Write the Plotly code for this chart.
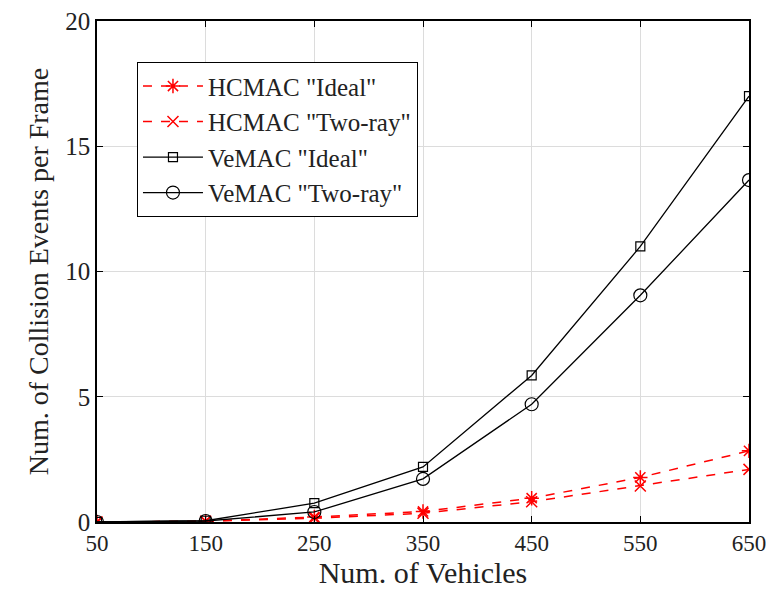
import plotly.graph_objects as go

vehicles = [50, 150, 250, 350, 450, 550, 650]
hcmac_ideal = [0, 0.03, 0.2, 0.42, 0.95, 1.78, 2.84]
hcmac_tworay = [0, 0.03, 0.15, 0.35, 0.81, 1.44, 2.1]
vemac_ideal = [0, 0.05, 0.75, 2.2, 5.85, 11.0, 17.0]
vemac_tworay = [0, 0.04, 0.4, 1.72, 4.7, 9.05, 13.65]

x_ticks = [50, 150, 250, 350, 450, 550, 650]
y_ticks = [0, 5, 10, 15, 20]

FONT = "Liberation Serif"
fig = go.Figure()
fig.add_trace(go.Scatter(x=vehicles, y=hcmac_ideal, name='HCMAC "Ideal"', mode="lines+markers",
                         line=dict(color="red", width=1.5, dash="dash"),
                         marker=dict(symbol="asterisk-open", size=12, color="red",
                                     line=dict(color="red", width=1.5))))
fig.add_trace(go.Scatter(x=vehicles, y=hcmac_tworay, name='HCMAC "Two-ray"', mode="lines+markers",
                         line=dict(color="red", width=1.5, dash="dash"),
                         marker=dict(symbol="x-thin-open", size=11, color="red",
                                     line=dict(color="red", width=1.5))))
fig.add_trace(go.Scatter(x=vehicles, y=vemac_ideal, name='VeMAC "Ideal"', mode="lines+markers",
                         line=dict(color="black", width=1.3),
                         marker=dict(symbol="square-open", size=9, color="black",
                                     line=dict(color="black", width=1.2))))
fig.add_trace(go.Scatter(x=vehicles, y=vemac_tworay, name='VeMAC "Two-ray"', mode="lines+markers",
                         line=dict(color="black", width=1.3),
                         marker=dict(symbol="circle-open", size=13, color="black",
                                     line=dict(color="black", width=1.2))))

axis_common = dict(showline=True, linecolor="black", linewidth=1.5, mirror="ticks",
                   ticks="inside", ticklen=6, tickcolor="black",
                   showgrid=True, gridcolor="#dcdcdc", gridwidth=1, zeroline=False,
                   ticklabeloverflow="allow", automargin=False)
fig.update_xaxes(range=[50, 650], tickvals=x_ticks,
                 tickfont=dict(family=FONT, size=23, color="#222"),
                 title=dict(text="Num. of Vehicles", font=dict(family=FONT, size=30, color="#222"), standoff=4),
                 **axis_common)
fig.update_yaxes(range=[0, 20], tickvals=y_ticks,
                 tickfont=dict(family=FONT, size=25, color="#222"),
                 title=dict(text="Num. of Collision Events per Frame", font=dict(family=FONT, size=28, color="#222"), standoff=8),
                 **axis_common)

fig.update_layout(
    width=769, height=599,
    margin=dict(l=97, r=20, t=21, b=77),
    paper_bgcolor="white", plot_bgcolor="white",
    showlegend=True,
    legend=dict(x=0.061, y=0.918, xanchor="left", yanchor="top",
                bgcolor="white", bordercolor="black", borderwidth=1.2,
                font=dict(family=FONT, size=25, color="#222"),
                tracegroupgap=0, itemwidth=60),
)
fig.write_html("out.html")
